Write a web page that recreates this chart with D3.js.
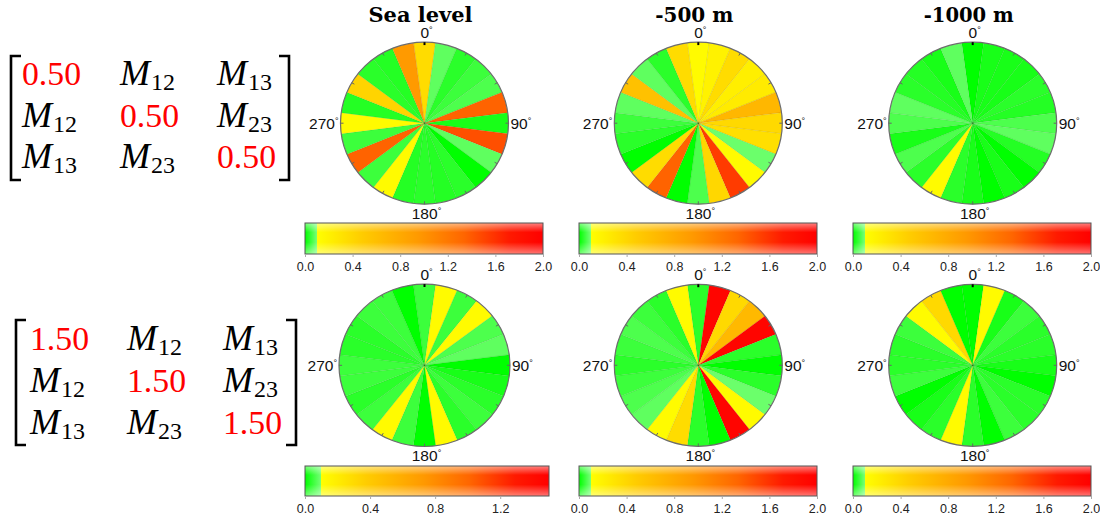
<!DOCTYPE html>
<html>
<head>
<meta charset="utf-8">
<script src="https://cdn.jsdelivr.net/npm/d3@7"></script>
<style>
body { margin: 0; background: #fff; }
svg { display: block; }
</style>
</head>
<body>
<svg id="chart" width="1100" height="518"></svg>
<script>
// sector centres, degrees clockwise from north
var sectorAngles = [0, 15, 30, 45, 60, 75, 90, 105, 120, 135, 150, 165,
                    180, 195, 210, 225, 240, 255, 270, 285, 300, 315, 330, 345];
var angleLabels = [0, 90, 180, 270];
var panelTitles = ["Sea level", "-500 m", "-1000 m"];
var diagValues = ["0.50", "1.50"];

// values per sector (row 1: diag 0.50, row 2: diag 1.50)
var seaLevelTop  = [0.36, 0.08, 0.035, 0.05, 0.065, 1.35, 0.02, 1.45, 0.08, 0.0, 0.035, 0.03,
                    0.035, 0.03, 0.13, 0.05, 1.35, 0.05, 0.13, 0.03, 0.42, 0.035, 0.03, 0.95];
var m500Top      = [0.13, 0.2, 0.36, 0.22, 0.25, 0.68, 0.38, 0.34, 0.09, 0.13, 1.55, 0.4,
                    0.065, 0.0, 1.35, 0.36, 0.0, 0.035, 0.05, 0.08, 0.58, 0.08, 0.035, 0.36];
var m1000Top     = [0.0, 0.02, 0.02, 0.02, 0.035, 0.03, 0.065, 0.08, 0.03, 0.0, 0.02, 0.0,
                    0.02, 0.035, 0.13, 0.035, 0.065, 0.02, 0.065, 0.08, 0.035, 0.03, 0.02, 0.08];
var seaLevelBot  = [0.05, 0.12, 0.05, 0.12, 0.065, 0.08, 0.0, 0.02, 0.035, 0.05, 0.035, 0.12,
                    0.0, 0.05, 0.12, 0.05, 0.035, 0.05, 0.05, 0.035, 0.035, 0.05, 0.05, 0.0];
var m500Bot      = [0.035, 1.95, 0.38, 0.66, 1.95, 0.035, 0.0, 0.035, 0.09, 0.13, 1.95, 0.0,
                    0.035, 0.36, 0.13, 0.08, 0.065, 0.05, 0.035, 0.05, 0.065, 0.05, 0.035, 0.13];
var m1000Bot     = [0.0, 0.13, 0.02, 0.05, 0.035, 0.035, 0.02, 0.0, 0.035, 0.035, 0.05, 0.0,
                    0.035, 0.13, 0.035, 0.02, 0.0, 0.05, 0.035, 0.035, 0.05, 0.13, 0.38, 0.0];

var colorbarMax = [[2.0, 2.0, 2.0], [1.5, 2.0, 2.0]];
var colorbarTicks = [0.0, 0.4, 0.8, 1.2, 1.6, 2.0];

var greenCut = 0.1;
var greenStops = ["#00ff00", "#77ff77"];
var warmStops = ["#ffff00", "#ffcc00", "#ff9900", "#ff6600", "#ff1a00", "#ff0000"];
var warmOffsets = [0, 0.2, 0.45, 0.65, 0.85, 1];

var panelData = [[seaLevelTop, m500Top, m1000Top], [seaLevelBot, m500Bot, m1000Bot]];

// layout
var cxs = [424.5, 698.3, 972.7];
var cys = [123.2, 365.3];
var radii = [[[84, 81], [84, 81], [84, 81]], [[85.5, 81.2], [84, 81], [84, 81]]];
var barX = [[[305, 543], [579, 817], [853, 1091]], [[305, 549], [579, 817], [853, 1091]]];
var barY = [[223, 31], [466, 30]];
var R = 84;

var sans = "'Liberation Sans', Arimo, Arial, Helvetica, sans-serif";
var serif = "'Liberation Serif', Tinos, 'Times New Roman', Times, 'DejaVu Serif', serif";

var svg = d3.select("#chart");
var defs = svg.append("defs");

// glossy shading on the colour bars
var gloss = defs.append("linearGradient").attr("id", "gloss")
    .attr("x1", 0).attr("y1", 0).attr("x2", 0).attr("y2", 1);
[[0, 0.5], [0.3, 0], [0.62, 0], [1, 0.45]].forEach(function(s) {
    gloss.append("stop").attr("offset", s[0]).attr("stop-color", "#fff").attr("stop-opacity", s[1]);
});

function colorScale(max) {
    var green = d3.scaleLinear().domain([0, greenCut]).range(greenStops).clamp(true);
    var warm = d3.scaleLinear()
        .domain(warmOffsets.map(function(t) { return greenCut + t * (max - greenCut); }))
        .range(warmStops).clamp(true);
    return function(v) { return v < greenCut ? green(v) : warm(v); };
}

var angle = d3.scaleLinear().domain([0, 360]).range([0, 2 * Math.PI]);
var half = 360 / sectorAngles.length / 2;
var arc = d3.arc()
    .innerRadius(0)
    .outerRadius(R)
    .startAngle(function(d) { return angle(d.a - half); })
    .endAngle(function(d) { return angle(d.a + half); });

// titles
panelTitles.forEach(function(t, i) {
    svg.append("text")
        .attr("x", cxs[i] - 4)
        .attr("y", 22)
        .attr("text-anchor", "middle")
        .attr("textLength", [104, 78, 90][i])
        .attr("lengthAdjust", "spacingAndGlyphs")
        .style("font-family", "'DejaVu Serif', serif")
        .style("font-weight", "bold")
        .style("font-size", "20px")
        .style("fill", "#000")
        .text(t);
});

panelData.forEach(function(row, r) {
    row.forEach(function(values, c) {
        var cx = cxs[c], cy = cys[r];
        var rx = radii[r][c][0], ry = radii[r][c][1];
        var color = colorScale(colorbarMax[r][c]);
        var data = sectorAngles.map(function(a, k) { return {a: a, v: values[k]}; });

        var g = svg.append("g")
            .attr("transform", "translate(" + cx + "," + cy + ") scale(" + (rx / R) + "," + (ry / R) + ")");

        g.selectAll("path.sector")
            .data(data)
            .enter().append("path")
            .attr("class", "sector")
            .attr("d", arc)
            .style("fill", function(d) { return color(d.v); })
            .style("stroke", "rgba(0,0,0,0.10)")
            .style("stroke-width", 0.6)
            .attr("vector-effect", "non-scaling-stroke");

        g.append("circle")
            .attr("r", R)
            .style("fill", "none")
            .style("stroke", "#6d6d6d")
            .style("stroke-width", 1.2)
            .attr("vector-effect", "non-scaling-stroke");

        // small perimeter ticks
        g.selectAll("line.tick")
            .data(sectorAngles.filter(function(a) { return a % 30 === 0; }))
            .enter().append("line")
            .attr("x1", function(a) { return R * Math.sin(angle(a)); })
            .attr("y1", function(a) { return -R * Math.cos(angle(a)); })
            .attr("x2", function(a) { return (R - 3) * Math.sin(angle(a)); })
            .attr("y2", function(a) { return -(R - 3) * Math.cos(angle(a)); })
            .style("stroke", function(a) { return a === 0 ? "#000" : "#666"; })
            .style("stroke-width", function(a) { return a === 0 ? 2 : 1; })
            .attr("vector-effect", "non-scaling-stroke");

        // compass labels
        angleLabels.forEach(function(a) {
            var t = svg.append("text")
                .style("font-family", sans)
                .style("font-size", "15.5px")
                .style("fill", "#111");
            if (a === 0) {
                t.attr("x", cx + 2).attr("y", cy - ry - 4).attr("text-anchor", "middle");
            } else if (a === 180) {
                t.attr("x", cx + 2).attr("y", cy + ry + 14.5).attr("text-anchor", "middle");
            } else if (a === 90) {
                t.attr("x", cx + rx + 2).attr("y", cy + 5.5).attr("text-anchor", "start");
            } else {
                t.attr("x", cx - rx - 2).attr("y", cy + 5.5).attr("text-anchor", "end");
            }
            t.append("tspan").text(a);
            t.append("tspan").attr("dy", -5).style("font-size", "9px").text("\u00b0");
        });

        // colour bar
        var max = colorbarMax[r][c];
        var x0 = barX[r][c][0], x1 = barX[r][c][1];
        var by = barY[r][0], bh = barY[r][1];
        var gid = "cb" + r + c;
        var lg = defs.append("linearGradient").attr("id", gid)
            .attr("x1", 0).attr("y1", 0).attr("x2", 1).attr("y2", 0);
        var gcut = greenCut / max;
        lg.append("stop").attr("offset", 0).attr("stop-color", greenStops[0]);
        lg.append("stop").attr("offset", gcut).attr("stop-color", greenStops[1]);
        warmOffsets.forEach(function(t, k) {
            lg.append("stop").attr("offset", gcut + t * (1 - gcut)).attr("stop-color", warmStops[k]);
        });

        var xs = d3.scaleLinear().domain([0, max]).range([x0, x1]);
        svg.append("rect")
            .attr("x", x0).attr("y", by).attr("width", x1 - x0).attr("height", bh)
            .style("fill", "url(#" + gid + ")");
        svg.append("rect")
            .attr("x", x0).attr("y", by).attr("width", x1 - x0).attr("height", bh)
            .style("fill", "url(#gloss)")
            .style("stroke", "#555")
            .style("stroke-width", 1);

        var axis = d3.axisBottom(xs)
            .tickValues(colorbarTicks.filter(function(v) { return v <= max + 1e-9; }))
            .tickSize(3)
            .tickFormat(d3.format(".1f"));
        var ag = svg.append("g")
            .attr("transform", "translate(0," + (by + bh) + ")")
            .call(axis);
        ag.select(".domain").remove();
        ag.selectAll(".tick line").style("stroke", "#aaa");
        ag.selectAll(".tick text")
            .attr("dy", "0.9em")
            .style("font-family", sans)
            .style("font-size", "12.5px")
            .style("fill", "#222");
    });
});

// tensor matrices
var matrixLayout = [
    {cols: [22, 120, 217], top: 85, step: 41.5, bl: 11, br: 289, y0: 56, y1: 180},
    {cols: [30, 127, 223], top: 350, step: 42, bl: 16, br: 296, y0: 320, y1: 445}
];
diagValues.forEach(function(dv, m) {
    var L = matrixLayout[m];
    var mg = svg.append("g");
    for (var i = 0; i < 3; i++) {
        for (var j = 0; j < 3; j++) {
            var x = L.cols[j], y = L.top + i * L.step;
            if (i === j) {
                mg.append("text")
                    .attr("x", x).attr("y", y)
                    .attr("textLength", 59)
                    .attr("lengthAdjust", "spacingAndGlyphs")
                    .style("font-family", serif)
                    .style("font-size", "33px")
                    .style("fill", "#f00")
                    .text(dv);
            } else {
                var sub = "" + (Math.min(i, j) + 1) + (Math.max(i, j) + 1);
                mg.append("text")
                    .attr("x", x).attr("y", y)
                    .style("font-family", serif)
                    .style("font-style", "italic")
                    .style("font-size", "36px")
                    .style("fill", "#000")
                    .text("M");
                mg.append("text")
                    .attr("x", x + 31).attr("y", y + 5)
                    .style("font-family", serif)
                    .style("font-size", "24px")
                    .style("fill", "#000")
                    .text(sub);
            }
        }
    }
    var s = 10;
    mg.append("path")
        .attr("d", "M" + (L.bl + s) + "," + L.y0 + "H" + L.bl + "V" + L.y1 + "H" + (L.bl + s))
        .style("fill", "none").style("stroke", "#000").style("stroke-width", 2.6);
    mg.append("path")
        .attr("d", "M" + (L.br - s) + "," + L.y0 + "H" + L.br + "V" + L.y1 + "H" + (L.br - s))
        .style("fill", "none").style("stroke", "#000").style("stroke-width", 2.6);
});
</script>
</body>
</html>
